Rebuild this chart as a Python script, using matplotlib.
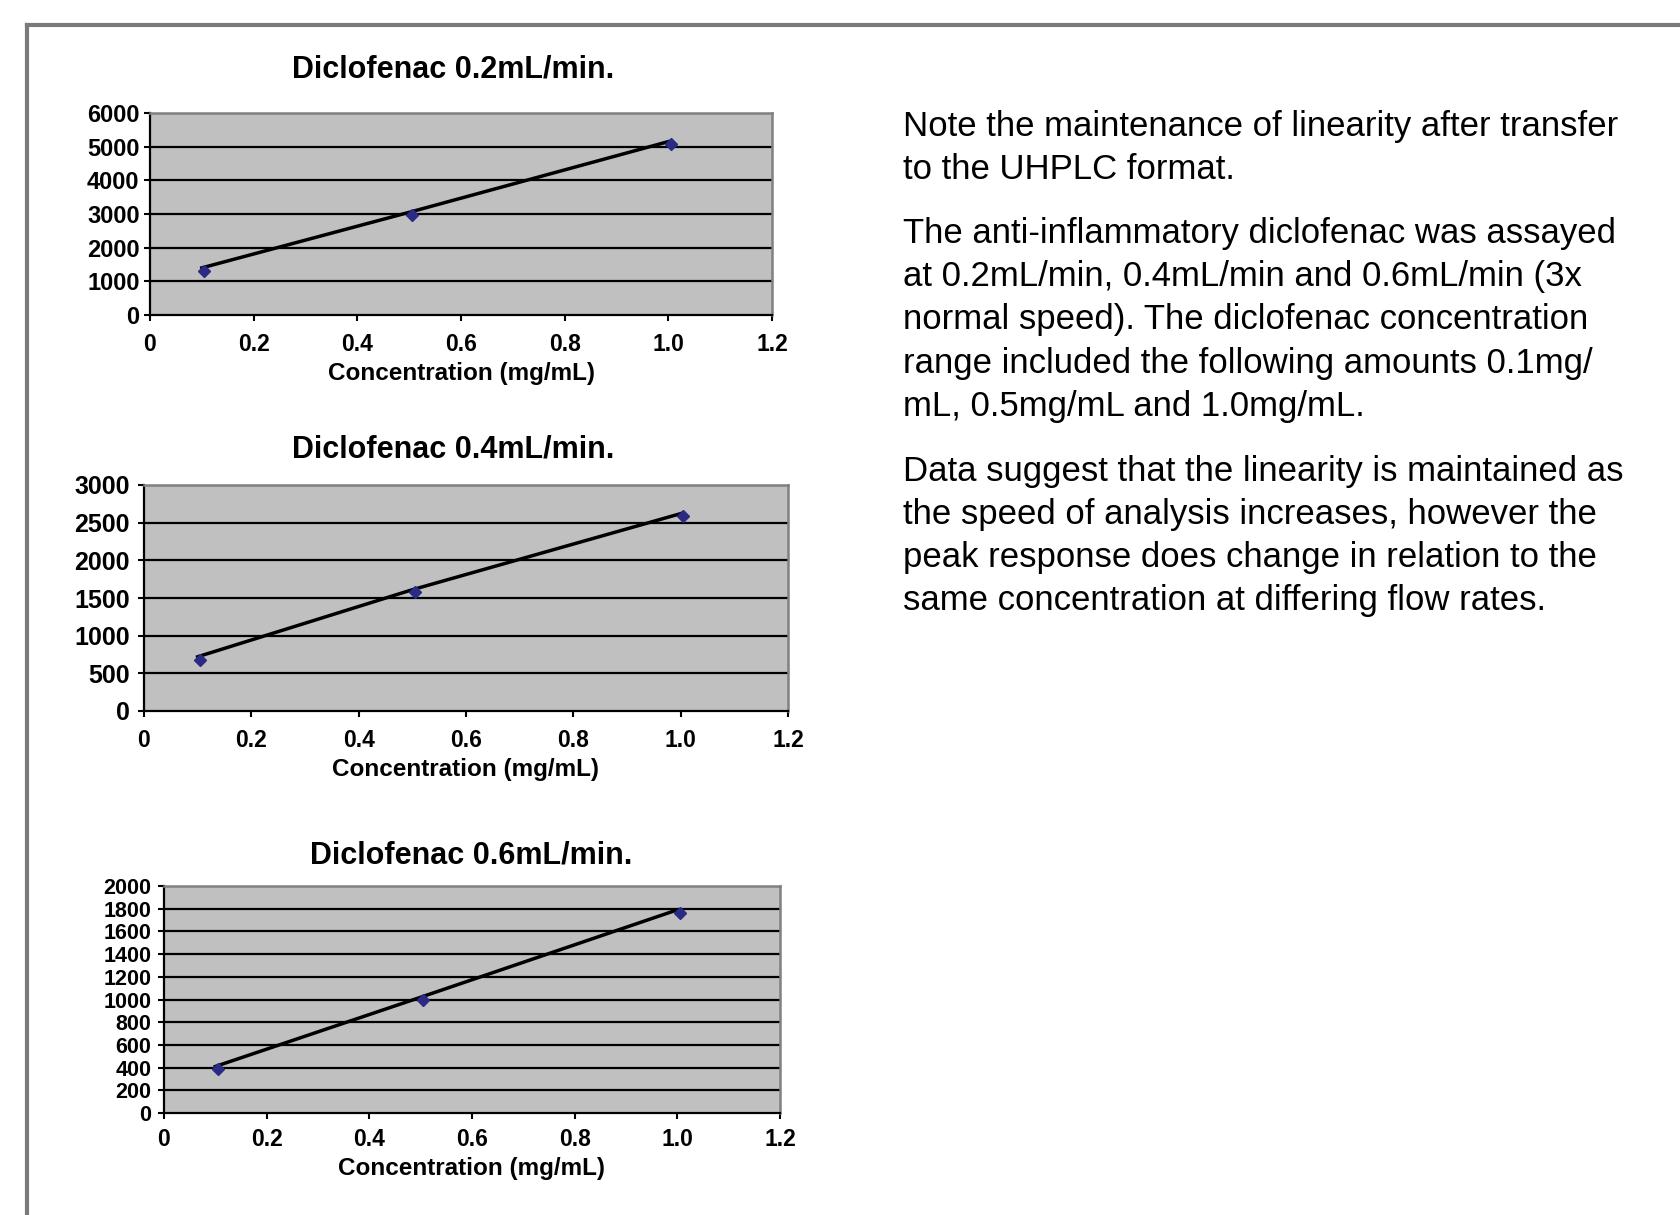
import numpy as np
import matplotlib.pyplot as plt
from matplotlib import transforms
from matplotlib.lines import Line2D

# concentration points (mg/mL) and peak response at each flow rate
conc = [0.1, 0.5, 1.0]
resp_02 = [1400, 3050, 5150]
resp_04 = [720, 1610, 2620]
resp_06 = [410, 1020, 1790]

titles = ['Diclofenac 0.2mL/min.', 'Diclofenac 0.4mL/min.', 'Diclofenac 0.6mL/min.']
xticks = [0, 0.2, 0.4, 0.6, 0.8, 1.0, 1.2]
xtick_labels = ['0', '0.2', '0.4', '0.6', '0.8', '1.0', '1.2']
yticks_02 = list(range(0, 6001, 1000))
yticks_04 = list(range(0, 3001, 500))
yticks_06 = list(range(0, 2001, 200))

notes = [
    ['Note the maintenance of linearity after transfer',
     'to the UHPLC format.'],
    ['The anti-inflammatory diclofenac was assayed',
     'at 0.2mL/min, 0.4mL/min and 0.6mL/min (3x',
     'normal speed). The diclofenac concentration',
     'range included the following amounts 0.1mg/',
     'mL, 0.5mg/mL and 1.0mg/mL.'],
    ['Data suggest that the linearity is maintained as',
     'the speed of analysis increases, however the',
     'peak response does change in relation to the',
     'same concentration at differing flow rates.'],
]

plt.rcParams['font.family'] = ['Liberation Sans', 'DejaVu Sans']

W, H = 1681, 1215
fig = plt.figure(figsize=(W / 100, H / 100), dpi=100)

def px(x, y):
    # pixel position (from top-left) to figure fraction
    return x / W, 1 - y / H

def draw_chart(rect, ys, yticks, title, title_xy, tick_fs, ypad, xpad, lpad):
    l, t, r, b = rect
    ax = fig.add_axes([l / W, 1 - b / H, (r - l) / W, (b - t) / H])
    ax.set_facecolor('#c0c0c0')
    ax.set_xlim(0, 1.2)
    ax.set_ylim(yticks[0], yticks[-1])
    ax.hlines(yticks[1:-1], 0, 1.2, color='black', lw=1.6, zorder=1)
    ax.plot(conc, ys, color='black', lw=2.5, zorder=2)
    mk = transforms.offset_copy(ax.transData, fig=fig, x=1.8, y=-2.0, units='points')
    ax.plot(conc, ys, ls='none', marker='D', ms=6.5, color='#2b2b86',
            transform=mk, zorder=3, clip_on=False)
    for s in ['left', 'bottom']:
        ax.spines[s].set_color('black')
        ax.spines[s].set_linewidth(1.6)
    for s in ['top', 'right']:
        ax.spines[s].set_color('#808080')
        ax.spines[s].set_linewidth(1.8)
    ax.set_xticks(xticks)
    ax.set_xticklabels(xtick_labels)
    ax.set_yticks(yticks)
    ax.tick_params(axis='y', direction='out', length=4, width=1.5, pad=ypad,
                   labelsize=tick_fs)
    ax.tick_params(axis='x', direction='out', length=4, width=1.5, pad=xpad,
                   labelsize=16.5)
    for lab in ax.get_xticklabels() + ax.get_yticklabels():
        lab.set_fontweight('bold')
    ax.set_xlabel('Concentration (mg/mL)', fontsize=17.5, fontweight='bold',
                  labelpad=lpad)
    fig.text(*px(*title_xy), title, fontsize=22, fontweight='bold',
             ha='center', va='center')
    return ax

draw_chart((150, 113, 772, 315), resp_02, yticks_02, titles[0], (453, 70), 17, 3.5, 9, 4)
draw_chart((144, 485, 788, 711), resp_04, yticks_04, titles[1], (453, 450), 18, 6, 9, 4)
draw_chart((164, 886, 780, 1113), resp_06, yticks_06, titles[2], (471, 856), 15.5, 5, 7, 4)

# slide frame
fig.add_artist(Line2D([27 / W, 1], [1 - 25 / H, 1 - 25 / H], color='#7a7a7a',
                      lw=3, transform=fig.transFigure))
fig.add_artist(Line2D([27 / W, 27 / W], [0, 1 - 25 / H], color='#7a7a7a',
                      lw=3, transform=fig.transFigure))

baselines = [[136, 179], [243, 286, 329, 373, 416], [481, 524, 567, 610]]
for para, ys in zip(notes, baselines):
    for line, y in zip(para, ys):
        fig.text(*px(903, y), line, fontsize=25, ha='left', va='baseline')

fig.savefig('out.png', dpi=100, facecolor='white')
